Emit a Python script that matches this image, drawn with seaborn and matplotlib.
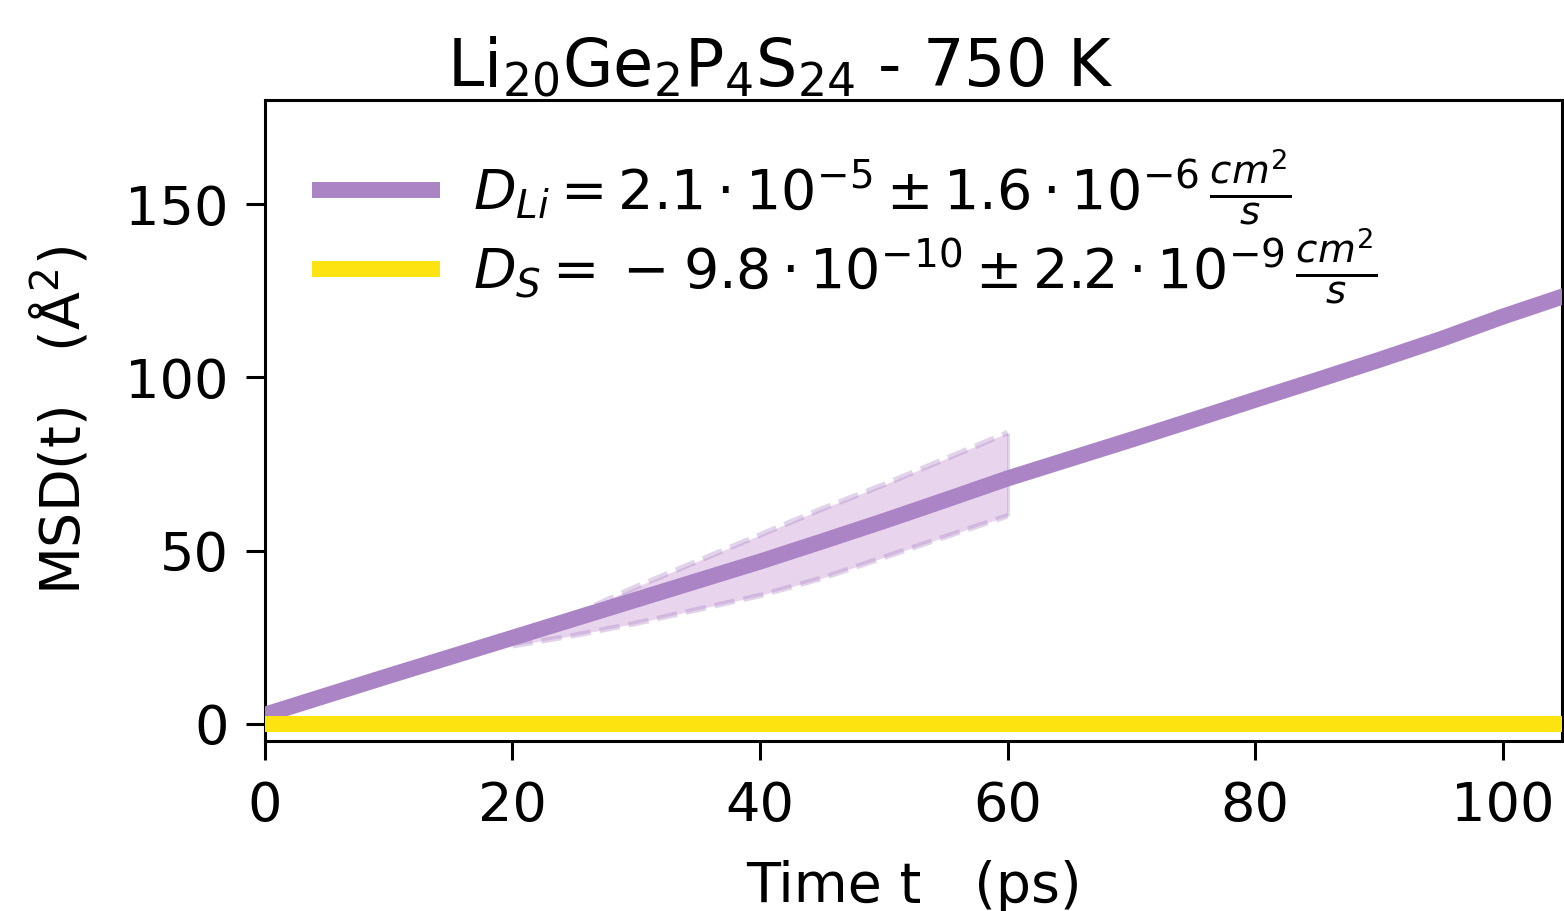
import matplotlib
matplotlib.use("Agg")
import matplotlib.pyplot as plt
import seaborn as sns
import pandas as pd

# ---- data ----
time_li = [0, 5, 10, 15, 20, 25, 30, 35, 40, 45, 50, 55, 60, 65, 70, 75, 80, 85, 90, 95, 100, 105]
msd_li = [2.6, 8.2, 13.8, 19.3, 24.8, 30.3, 35.8, 41.3, 46.8, 52.6, 58.5, 64.6, 70.8, 76.4, 82.0, 87.7, 93.5, 99.2, 105.0, 111.0, 117.5, 123.5]

time_band = [20, 25, 30, 35, 40, 45, 50, 55, 60]
band_upper = [25.0, 31.5, 39.5, 47.0, 54.5, 62.0, 69.0, 76.5, 84.0]
band_lower = [22.5, 25.5, 29.0, 33.0, 37.0, 42.0, 48.0, 54.0, 60.0]

time_s = [0, 15, 30, 45, 60, 75, 90, 105]
msd_s = [0.0, 0.0, 0.0, 0.0, 0.0, 0.0, 0.0, 0.0]

label_li = r'$D_{Li} = 2.1 \cdot 10^{-5} \pm 1.6 \cdot 10^{-6}\,\frac{cm^2}{s}$'
label_s = r'$D_{S} =\: -\; 9.8 \cdot 10^{-10} \pm 2.2 \cdot 10^{-9}\,\frac{cm^2}{s}$'
title = r'Li$_{20}$Ge$_{2}$P$_{4}$S$_{24}$ - 750 K'

purple = '#ab84c5'
band_col = '#d9b8e0'
yellow = '#fde30f'

sns.set_style("ticks")
plt.rcParams['font.family'] = ['DejaVu Sans']
plt.rcParams['mathtext.fontset'] = 'dejavusans'
plt.rcParams['lines.solid_capstyle'] = 'butt'
plt.rcParams['lines.dash_capstyle'] = 'butt'
for k in ['text.color', 'axes.labelcolor', 'xtick.color', 'ytick.color', 'axes.edgecolor']:
    plt.rcParams[k] = 'black'

fig = plt.figure(figsize=(15.64, 9.11), dpi=100)
ax = fig.add_axes([0.1694, 0.1866, 0.8293, 0.7034])

df_li = pd.DataFrame({'t': time_li, 'msd': msd_li})
df_s = pd.DataFrame({'t': time_s, 'msd': msd_s})
df_band = pd.DataFrame({'t': time_band, 'up': band_upper, 'lo': band_lower})

ax.fill_between(df_band['t'], df_band['lo'], df_band['up'], color=band_col, alpha=0.6, lw=0, zorder=1)
sns.lineplot(data=df_band, x='t', y='up', ax=ax, color=purple, alpha=0.35, lw=4, ls='--', zorder=2)
sns.lineplot(data=df_band, x='t', y='lo', ax=ax, color=purple, alpha=0.35, lw=4, ls='--', zorder=2)
ax.vlines(time_band[-1], band_lower[-1], band_upper[-1], color=purple, alpha=0.35, lw=2, zorder=2)

sns.lineplot(data=df_li, x='t', y='msd', ax=ax, color=purple, lw=11.5, label=label_li, zorder=3)
sns.lineplot(data=df_s, x='t', y='msd', ax=ax, color=yellow, lw=11.5, label=label_s, zorder=4)

ax.set_xlim(0, 104.8)
ax.set_ylim(-5, 180)
ax.set_xticks([0, 20, 40, 60, 80, 100])
ax.set_yticks([0, 50, 100, 150])

for s in ax.spines.values():
    s.set_linewidth(2.2)
    s.set_color('black')
ax.tick_params(axis='both', labelsize=39, width=2.2, length=14, pad=12, direction='out', colors='black')
ax.tick_params(axis='x', pad=14)

ax.set_xlabel('Time t   (ps)', fontsize=40, labelpad=20)
ax.set_ylabel('MSD(t)   (Å$^2$)', fontsize=40, labelpad=24)
ax.set_title(title, fontsize=47, x=0.397, pad=8)

leg = ax.legend(loc='upper left', frameon=False, fontsize=40, handlelength=2.3,
                borderaxespad=0.45, labelspacing=0.0, handletextpad=0.6)

fig.savefig('out.png', dpi=100)
